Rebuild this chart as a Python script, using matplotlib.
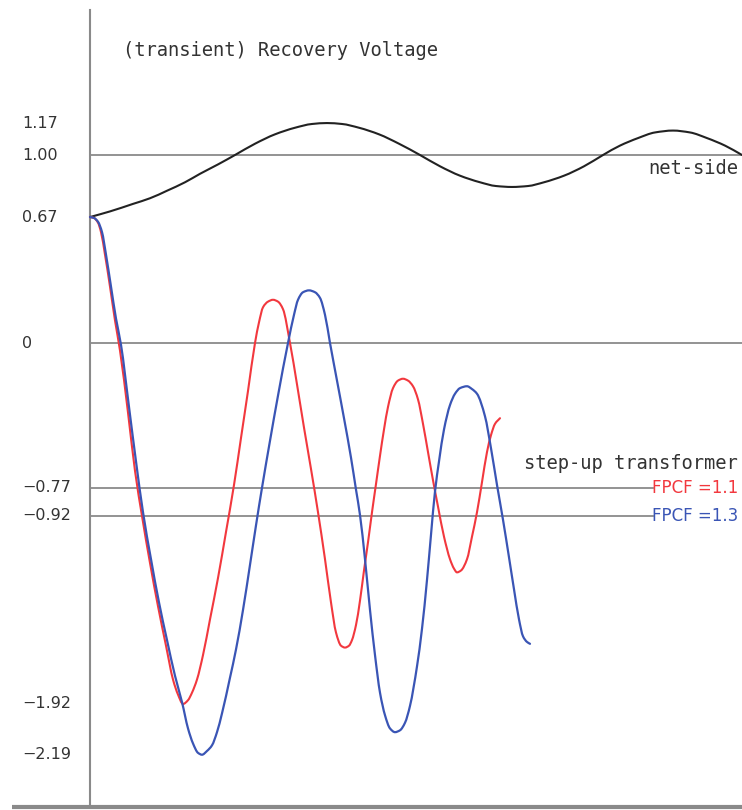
import matplotlib
matplotlib.use("Agg")
import matplotlib.pyplot as plt
from matplotlib.path import Path
from matplotlib.patches import PathPatch

# ---- data ----
net_t = [0, 20, 43, 60, 77, 95, 110, 128, 145, 165, 185, 205, 222, 237, 252, 269, 289, 309, 330,
         350, 370, 390, 406, 422, 438, 454, 474, 494, 513, 530, 548, 565, 583, 600, 617, 635, 652]
net_v = [0.67, 0.70, 0.74, 0.77, 0.81, 0.855, 0.90, 0.95, 1.00, 1.06, 1.11, 1.145, 1.165, 1.17, 1.165,
         1.145, 1.11, 1.06, 1.00, 0.94, 0.89, 0.855, 0.835, 0.83, 0.835, 0.855, 0.89, 0.94, 1.00,
         1.05, 1.09, 1.12, 1.13, 1.12, 1.09, 1.05, 1.00]

red_t = [0, 4, 8, 11, 15, 20, 25, 30, 38, 45, 52, 60, 68, 76, 83, 88, 93, 98, 102, 107,
         113, 120, 128, 136, 144, 151, 158, 165, 169, 173, 178, 183, 188, 193, 200, 207, 214, 221,
         228, 235, 241, 246, 251, 255, 259, 262, 266, 270, 274, 278, 282, 286, 290, 294, 298, 303,
         308, 313, 318, 323, 328, 333, 338, 343, 348, 354, 360, 364, 367, 371, 377, 382, 387, 392,
         397, 401, 405, 410]
red_v = [0.67, 0.665, 0.64, 0.59, 0.47, 0.30, 0.12, -0.04, -0.37, -0.68, -0.92, -1.17, -1.40, -1.61,
         -1.79, -1.87, -1.92, -1.90, -1.86, -1.79, -1.66, -1.47, -1.25, -1.005, -0.755, -0.505,
         -0.255, 0, 0.11, 0.19, 0.22, 0.23, 0.22, 0.18, 0, -0.22, -0.45, -0.67, -0.90, -1.15, -1.38,
         -1.54, -1.61, -1.62, -1.61, -1.58, -1.50, -1.37, -1.21, -1.06, -0.90, -0.75, -0.60, -0.46,
         -0.34, -0.24, -0.20, -0.19, -0.20, -0.23, -0.30, -0.43, -0.58, -0.73, -0.87, -1.03, -1.15,
         -1.20, -1.22, -1.21, -1.15, -1.03, -0.90, -0.74, -0.58, -0.49, -0.43, -0.40]

blue_t = [0, 4, 8, 12, 16, 21, 26, 31, 39, 46, 53, 61, 69, 77, 85, 92, 98, 103, 108, 112,
          117, 122, 127, 132, 140, 146, 153, 160, 166, 172, 180, 188, 198, 204, 208, 213, 219, 225,
          230, 235, 240, 247, 254, 261, 266, 270, 275, 280, 285, 290, 295, 300, 305, 310, 315, 320,
          327, 332, 337, 341, 345, 349, 354, 360, 365, 370, 377, 382, 387, 395, 401, 407, 413, 419,
          424, 429, 433, 437, 440]
blue_v = [0.67, 0.665, 0.645, 0.59, 0.47, 0.30, 0.13, -0.01, -0.34, -0.63, -0.90, -1.15, -1.38,
          -1.58, -1.77, -1.91, -2.05, -2.13, -2.18, -2.19, -2.17, -2.14, -2.07, -1.97, -1.78, -1.63,
          -1.42, -1.18, -0.97, -0.77, -0.52, -0.28, 0, 0.15, 0.23, 0.27, 0.28, 0.27, 0.24, 0.15, 0,
          -0.20, -0.40, -0.61, -0.78, -0.915, -1.15, -1.42, -1.66, -1.86, -1.98, -2.05, -2.07, -2.06,
          -2.02, -1.93, -1.72, -1.52, -1.26, -1.02, -0.79, -0.63, -0.46, -0.33, -0.27, -0.24, -0.23,
          -0.245, -0.27, -0.39, -0.56, -0.755, -0.94, -1.14, -1.31, -1.47, -1.56, -1.59, -1.60]

tick_vals = [1.17, 1.00, 0.67, 0, -0.77, -0.92, -1.92, -2.19]
tick_labels = ["1.17", "1.00", "0.67", "0", "\u22120.77", "\u22120.92", "\u22121.92", "\u22122.19"]

title = "(transient) Recovery Voltage"
net_label = "net-side"
trafo_label = "step-up transformer"
fpcf_labels = ["FPCF =1.1", "FPCF =1.3"]
fpcf_levels = [-0.77, -0.92]

# ---- style ----
red = "#f2383e"
blue = "#3a55b5"
gray = "#8a8a8a"
mono = "DejaVu Sans Mono"


def smooth_line(ax, xs, ys, **kw):
    """Draw a smooth (cubic Bezier) line through the read points."""
    n = len(xs)
    slopes = []
    for i in range(n):
        if i == 0:
            m = (ys[1] - ys[0]) / (xs[1] - xs[0])
        elif i == n - 1:
            m = (ys[-1] - ys[-2]) / (xs[-1] - xs[-2])
        else:
            d1 = (ys[i] - ys[i - 1]) / (xs[i] - xs[i - 1])
            d2 = (ys[i + 1] - ys[i]) / (xs[i + 1] - xs[i])
            if d1 * d2 <= 0:
                m = 0.0
            else:
                h1 = xs[i] - xs[i - 1]
                h2 = xs[i + 1] - xs[i]
                w1 = 2 * h2 + h1
                w2 = h2 + 2 * h1
                m = (w1 + w2) / (w1 / d1 + w2 / d2)
        slopes.append(m)
    verts = [(xs[0], ys[0])]
    codes = [Path.MOVETO]
    for i in range(n - 1):
        h = xs[i + 1] - xs[i]
        verts += [(xs[i] + h / 3, ys[i] + slopes[i] * h / 3),
                  (xs[i + 1] - h / 3, ys[i + 1] - slopes[i + 1] * h / 3),
                  (xs[i + 1], ys[i + 1])]
        codes += [Path.CURVE4] * 3
    ax.add_patch(PathPatch(Path(verts, codes), fill=False, capstyle="round",
                           joinstyle="round", **kw))


fig = plt.figure(figsize=(7.42, 8.10), dpi=100)
ax = fig.add_axes([0, 0, 1, 1])
ax.set_xlim(-90, 652)
ax.set_ylim(-2.484, 1.8245)
ax.axis("off")

x_end = 652
y_bottom = -2.468
y_top = 1.771

# reference lines
ax.plot([0, x_end], [1.0, 1.0], color=gray, lw=1.3, zorder=1)
ax.plot([0, x_end], [0.0, 0.0], color=gray, lw=1.3, zorder=1)
for lv in fpcf_levels:
    ax.plot([0, 563], [lv, lv], color=gray, lw=1.3, zorder=1)

# axes
ax.plot([0, 0], [y_bottom, y_top], color=gray, lw=1.5, zorder=1)
ax.plot([-78, x_end], [y_bottom, y_bottom], color=gray, lw=3, zorder=1, solid_capstyle="butt")

# curves
smooth_line(ax, net_t, net_v, edgecolor="#222222", lw=1.5, zorder=3)
smooth_line(ax, red_t, red_v, edgecolor=red, lw=1.5, zorder=3)
smooth_line(ax, blue_t, blue_v, edgecolor=blue, lw=1.6, zorder=4)

# tick labels
for v, s in zip(tick_vals, tick_labels):
    ax.text(-68, v, s, ha="left", va="center", fontsize=11.5, color="#333333",
            family="DejaVu Sans")

# texts
ax.text(33, (343 - 50) / 188, title, ha="left", va="center", fontsize=13.5,
        family=mono, color="#333333")
ax.text(648, 0.93, net_label, ha="right", va="center", fontsize=13.5, family=mono,
        color="#333333")
ax.text(648, -0.64, trafo_label, ha="right", va="center", fontsize=13.5, family=mono,
        color="#333333")
ax.text(648, fpcf_levels[0], fpcf_labels[0], ha="right", va="center", fontsize=12,
        family="DejaVu Sans", color=red)
ax.text(648, fpcf_levels[1], fpcf_labels[1], ha="right", va="center", fontsize=12,
        family="DejaVu Sans", color=blue)

fig.savefig("out.png", dpi=100, facecolor="white")
